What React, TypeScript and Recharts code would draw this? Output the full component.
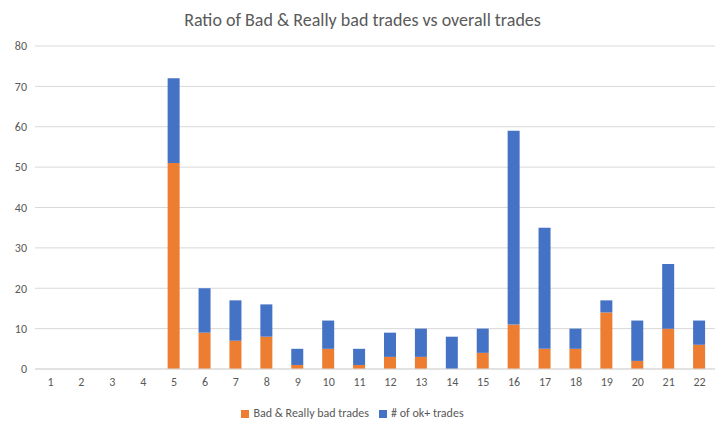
import React from "react";
import { BarChart, Bar, XAxis, YAxis, CartesianGrid, Legend } from "recharts";

const categories = ["1","2","3","4","5","6","7","8","9","10","11","12","13","14","15","16","17","18","19","20","21","22"];
const badTrades = [0,0,0,0,51,9,7,8,1,5,1,3,3,0,4,11,5,5,14,2,10,6];
const totalTrades = [0,0,0,0,72,20,17,16,5,12,5,9,10,8,10,59,35,10,17,12,26,12];
const okTrades = totalTrades.map((t, i) => t - badTrades[i]);
const yTicks = [0,10,20,30,40,50,60,70,80];

const data = categories.map((c, i) => ({ name: c, bad: badTrades[i], ok: okTrades[i] }));

export default function App() {
  return (
    <div style={{ position: "absolute", left: 0, top: 0, width: 725, height: 431, background: "#fff", fontFamily: "Carlito, 'Liberation Sans', sans-serif" }}>
      <div style={{ position: "absolute", top: 9, width: 725, textAlign: "center", fontSize: 18, color: "#595959" }}>
        Ratio of Bad &amp; Really bad trades vs overall trades
      </div>
      <BarChart width={725} height={431} data={data} margin={{ top: 46, right: 10, left: 0, bottom: 11 }}>
        <CartesianGrid vertical={false} stroke="#d9d9d9" />
        <XAxis dataKey="name" height={37} tick={{ fill: "#595959", fontSize: 12 }} tickLine={false} axisLine={{ stroke: "#d9d9d9" }} />
        <YAxis width={35} domain={[0, 80]} ticks={yTicks} tick={{ fill: "#595959", fontSize: 12 }} tickLine={false} axisLine={false} />
        <Legend verticalAlign="bottom" iconType="square" iconSize={8} itemSorter="dataKey" wrapperStyle={{ fontSize: 12 }} formatter={(v) => <span style={{ color: "#595959" }}>{v}</span>} />
        <Bar dataKey="bad" name="Bad & Really bad trades" stackId="a" fill="#ED7D31" barSize={12} isAnimationActive={false} />
        <Bar dataKey="ok" name="# of ok+ trades" stackId="a" fill="#4472C4" barSize={12} isAnimationActive={false} />
      </BarChart>
    </div>
  );
}
